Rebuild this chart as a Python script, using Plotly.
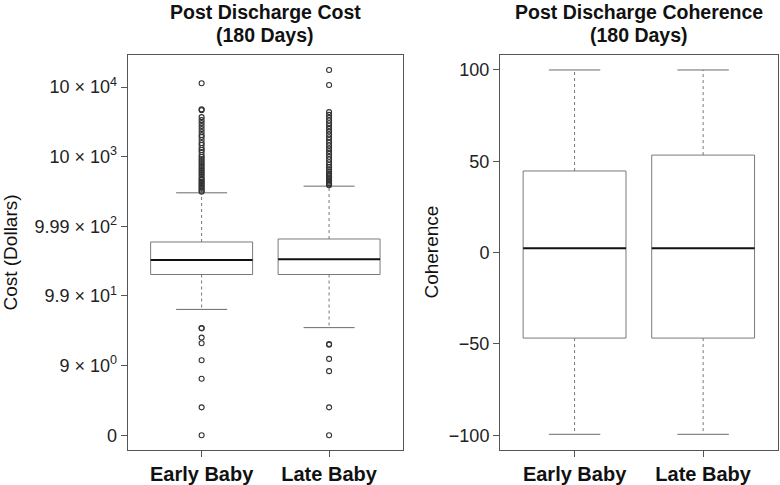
import plotly.graph_objects as go

# categories
groups = ["Early Baby", "Late Baby"]

# cost panel, values on the log10(cost + 1) scale the chart uses
cost_q1 = [2.308, 2.308]
cost_median = [2.518, 2.527]
cost_q3 = [2.775, 2.818]
cost_low_whisker = [1.807, 1.545]
cost_high_whisker = [3.481, 3.577]
cost_outliers_early = [
    5.054, 4.682, 4.668, 4.568, 4.525, 4.482, 4.439, 4.396, 4.353, 4.310,
    4.282, 4.239, 4.196, 4.167, 4.124, 4.096, 4.067, 4.024, 3.996, 3.967,
    3.939, 3.910, 3.881, 3.853, 3.824, 3.796, 3.767, 3.739, 3.710, 3.681,
    3.667, 3.638, 3.624, 3.596, 3.581, 3.553, 3.538, 3.510, 3.496,
    1.539, 1.535, 1.402, 1.320, 1.077, 0.810, 0.400, 0.0,
]
cost_outliers_late = [
    5.245, 5.030, 4.640, 4.600, 4.560, 4.520, 4.480, 4.440, 4.400, 4.360,
    4.320, 4.280, 4.240, 4.200, 4.160, 4.120, 4.080, 4.040, 4.000, 3.960,
    3.920, 3.880, 3.850, 3.820, 3.790, 3.760, 3.740, 3.720, 3.700, 3.680,
    3.660, 3.640, 3.620, 3.600, 3.590,
    1.310, 1.300, 1.096, 0.920, 0.400, 0.0,
]
cost_tickvals = [0, 1, 2, 3, 4, 5]
cost_ticktext = [
    "0",
    "9 \u00d7 10<sup>0</sup>",
    "9.9 \u00d7 10<sup>1</sup>",
    "9.99 \u00d7 10<sup>2</sup>",
    "10 \u00d7 10<sup>3</sup>",
    "10 \u00d7 10<sup>4</sup>",
]

# coherence panel
coh_q1 = [-46.8, -46.8]
coh_median = [2.4, 2.4]
coh_q3 = [44.7, 53.4]
coh_low_whisker = [-99.5, -99.5]
coh_high_whisker = [100, 100]
coh_tickvals = [-100, -50, 0, 50, 100]

FONT = "Liberation Sans, Arial, Helvetica, sans-serif"
BOX_HALF = 0.4
CAP_HALF = 0.2

fig = go.Figure()


def add_boxes(xa, ya, q1, med, q3, lo, hi, outliers):
    for i in range(len(groups)):
        c = i + 1
        # box body
        fig.add_trace(go.Scatter(
            x=[c - BOX_HALF, c + BOX_HALF, c + BOX_HALF, c - BOX_HALF, c - BOX_HALF],
            y=[q1[i], q1[i], q3[i], q3[i], q1[i]],
            mode="lines", fill="toself", fillcolor="white",
            line=dict(color="#7a7a7a", width=1),
            xaxis=xa, yaxis=ya, hoverinfo="skip", showlegend=False,
        ))
        # whiskers (dashed)
        fig.add_trace(go.Scatter(
            x=[c, c, None, c, c],
            y=[q3[i], hi[i], None, q1[i], lo[i]],
            mode="lines", line=dict(color="#777777", width=1, dash="3px,3px"),
            xaxis=xa, yaxis=ya, hoverinfo="skip", showlegend=False,
        ))
        # caps
        fig.add_trace(go.Scatter(
            x=[c - CAP_HALF, c + CAP_HALF, None, c - CAP_HALF, c + CAP_HALF],
            y=[hi[i], hi[i], None, lo[i], lo[i]],
            mode="lines", line=dict(color="#6a6a6a", width=1),
            xaxis=xa, yaxis=ya, hoverinfo="skip", showlegend=False,
        ))
        # median
        fig.add_trace(go.Scatter(
            x=[c - BOX_HALF, c + BOX_HALF],
            y=[med[i], med[i]],
            mode="lines", line=dict(color="#111111", width=2),
            xaxis=xa, yaxis=ya, hoverinfo="skip", showlegend=False,
        ))
        if outliers is not None:
            fig.add_trace(go.Scatter(
                x=[c] * len(outliers[i]), y=outliers[i],
                mode="markers",
                marker=dict(symbol="circle-open", size=5, color="#333333",
                            line=dict(width=1.1)),
                xaxis=xa, yaxis=ya, hoverinfo="skip", showlegend=False,
            ))


add_boxes("x", "y", cost_q1, cost_median, cost_q3, cost_low_whisker,
          cost_high_whisker, [cost_outliers_early, cost_outliers_late])
add_boxes("x2", "y2", coh_q1, coh_median, coh_q3, coh_low_whisker,
          coh_high_whisker, None)

W, H = 780, 485
ydom = [1 - 451.7 / H, 1 - 55.6 / H]

axis_common = dict(
    showline=True, mirror=True, linecolor="#555555", linewidth=1,
    ticks="outside", ticklen=6, tickcolor="#555555", showgrid=False,
    zeroline=False,
)
xtext = ["<b>" + g + "</b>" for g in groups]

fig.update_layout(
    width=W, height=H,
    margin=dict(l=0, r=0, t=0, b=0),
    paper_bgcolor="white", plot_bgcolor="white",
    font=dict(family=FONT, color="#222222"),
    xaxis=dict(domain=[127.7 / W, 403 / W], range=[0.42, 2.58],
               tickvals=[1, 2], ticktext=xtext, tickfont=dict(size=20, color="#111"),
               anchor="y", **axis_common),
    yaxis=dict(domain=ydom, range=[-0.21, 5.455], tickvals=cost_tickvals,
               ticktext=cost_ticktext, tickfont=dict(size=18),
               anchor="x", **axis_common),
    xaxis2=dict(domain=[500 / W, 777.7 / W], range=[0.42, 2.58],
                tickvals=[1, 2], ticktext=xtext, tickfont=dict(size=20, color="#111"),
                anchor="y2", **axis_common),
    yaxis2=dict(domain=ydom, range=[-108, 108], tickvals=coh_tickvals,
                ticktext=[str(v).replace("-", "\u2212") for v in coh_tickvals],
                tickfont=dict(size=18), anchor="x2", **axis_common),
)

annos = [
    ("<b>Post Discharge Cost</b>", 265.4, 12, 0),
    ("<b>(180 Days)</b>", 265.4, 35, 0),
    ("<b>Post Discharge Coherence</b>", 638.8, 12, 0),
    ("<b>(180 Days)</b>", 638.8, 35, 0),
    ("Cost (Dollars)", 11, 253.6, -90),
    ("Coherence", 432, 253.6, -90),
]
for text, px, py, ang in annos:
    fig.add_annotation(
        text=text, x=px / W, y=1 - py / H, xref="paper", yref="paper",
        xanchor="center", yanchor="middle", showarrow=False, textangle=ang,
        font=dict(size=19.5 if ang == 0 else 19, color="#111111", family=FONT),
    )

# the page body has a default 8px margin; remove it so the figure sits at 0,0
fig.write_html("out.html", config={"displayModeBar": False},
               post_script="document.body.style.margin='0px';")
